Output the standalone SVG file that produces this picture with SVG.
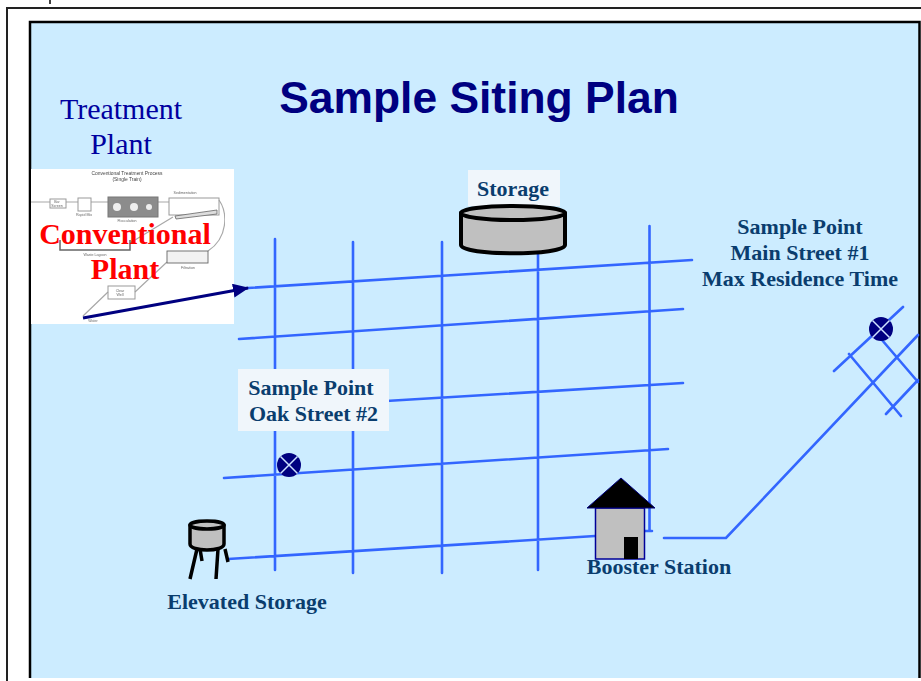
<svg xmlns="http://www.w3.org/2000/svg" width="921" height="681" viewBox="0 0 921 681">
<style>
.road{fill:none;stroke:#3366ff;stroke-width:2.6;stroke-linecap:round;stroke-linejoin:miter}
.lbl{font-family:"Liberation Serif","Times New Roman",serif;font-weight:700;font-size:22px;fill:#0a3d6e;text-anchor:middle}
.box{fill:#f0f6fb}
.tank{fill:#c0c0c0;stroke:#000;stroke-linejoin:round}
.mk{fill:#000080}
.x{stroke:#cfe3ff;stroke-width:1.5}
.pg{fill:none;stroke:#9a9a9a;stroke-width:1}
.pl{fill:none;stroke:#a8a8a8;stroke-width:1.2}
.pt{font-family:"Liberation Sans",Arial,sans-serif;font-size:3.6px;fill:#666;text-anchor:middle}
.red{font-family:"Liberation Serif","Times New Roman",serif;font-weight:700;font-size:30px;fill:#ff0000;text-anchor:middle}
</style>
<defs>
<marker id="ah" markerUnits="userSpaceOnUse" markerWidth="16" markerHeight="14" refX="15" refY="7" orient="auto"><path d="M0 0L16 7L0 14Z" fill="#000080"/></marker>
<filter id="soft" x="0" y="0" width="1" height="1"><feGaussianBlur stdDeviation="0.4"/></filter>
</defs>
<rect width="921" height="681" fill="#fff"/>
<path d="M50 0V4" stroke="#000" stroke-width="1.5"/>
<path d="M7 681V8H921" fill="none" stroke="#222" stroke-width="2"/>
<rect x="30" y="22" width="889" height="656" fill="#ccecff"/>
<path d="M30 678V22H919.500V678" fill="none" stroke="#000" stroke-width="2.500"/>
<text x="479" y="113" font-family="'Liberation Sans',Arial,sans-serif" font-weight="700" font-size="44.400" fill="#000080" text-anchor="middle">Sample Siting Plan</text>
<g id="treatment-plant">
<text x="121" y="119" font-family="'Liberation Serif','Times New Roman',serif" font-size="30" fill="#0000a0" text-anchor="middle">Treatment</text>
<text x="121" y="154" font-family="'Liberation Serif','Times New Roman',serif" font-size="30" fill="#0000a0" text-anchor="middle">Plant</text>
<rect x="31" y="169" width="203" height="155" fill="#fff"/>
<g filter="url(#soft)">
<text class="pt" x="127" y="174.500" style="font-size:4.900px;fill:#444">Conventional Treatment Process</text>
<text class="pt" x="127" y="180.500" style="font-size:4.900px;fill:#444">(Single Train)</text>
<path class="pl" d="M31 202H50M66 202H78M91 202H108M158 202H169M219 200C228 213 228 238 208 251M173 217L130 243M167 262L135 292M108 292L83 316"/>
<rect class="pg" x="50" y="199" width="16" height="9"/>
<rect class="pg" x="78" y="198" width="13" height="13"/>
<rect x="108" y="197" width="50" height="20" fill="#8c8c8c" stroke="#777"/>
<circle cx="117" cy="207" r="4" fill="#eee"/><circle cx="134" cy="207" r="4" fill="#eee"/><circle cx="149" cy="207" r="3" fill="#eee"/>
<rect class="pg" x="169" y="198" width="50" height="17"/>
<path d="M175 216L217 210V214L176 219Z" fill="#ddd" stroke="#666" stroke-width=".8"/>
<path d="M60 240V250H130V240" fill="none" stroke="#666" stroke-width="1.500"/>
<rect x="167" y="251" width="41" height="12" fill="#f2f2f2" stroke="#666" stroke-width=".9"/>
<rect class="pg" x="108" y="286" width="27" height="13"/>
<text class="pt" x="57" y="203">Bar</text><text class="pt" x="57" y="207">Screen</text>
<text class="pt" x="84" y="216">Rapid Mix</text>
<text class="pt" x="127" y="222">Flocculation</text>
<text class="pt" x="185" y="194">Sedimentation</text>
<text class="pt" x="95" y="256">Waste Lagoon</text>
<text class="pt" x="188" y="269">Filtration</text>
<text class="pt" x="120" y="291.500">Clear</text><text class="pt" x="120" y="296">Well</text>
<text class="pt" x="93" y="322">Water</text>
</g>
<text class="red" x="125" y="244">Conventional</text>
<text class="red" x="125" y="279">Plant</text>
</g>
<g id="connectors">
<path class="road" d="M248 288L692 260M239 339L683 309M270 408L683 383M224 478L668 449M228 559L595 536M645 531H652M275 239V570M353 242V573M442 242V573M538 250V570M649.500 226V531"/>
<path class="road" d="M664 538H726L918 335M834 371L903 307M849 354L901 416M882 340L918 382M886 414L918 380"/>
<path d="M83 318L248 288" fill="none" stroke="#000080" stroke-width="3" marker-end="url(#ah)"/>
</g>
<g id="storage">
<rect class="box" x="468" y="170" width="92" height="36"/>
<text class="lbl" x="513" y="196">Storage</text>
<path class="tank" stroke-width="4" d="M461 213V245C461 256 565 256 565 245V213Z"/>
<ellipse class="tank" stroke-width="4" cx="513" cy="213" rx="52" ry="7"/>
</g>
<g id="sample-main">
<text class="lbl" x="800" y="234">Sample Point</text>
<text class="lbl" x="800" y="260">Main Street #1</text>
<text class="lbl" x="800" y="286">Max Residence Time</text>
<circle class="mk" cx="881" cy="329" r="12"/>
<path class="x" d="M872.500 320.500L889.500 337.500M889.500 320.500L872.500 337.500"/>
</g>
<g id="sample-oak">
<rect class="box" x="238" y="369" width="151" height="62"/>
<text class="lbl" x="311" y="395">Sample Point</text>
<text class="lbl" x="313.500" y="421">Oak Street #2</text>
<circle class="mk" cx="289" cy="465" r="12"/>
<path class="x" d="M280.500 456.500L297.500 473.500M297.500 456.500L280.500 473.500"/>
</g>
<g id="elevated-storage">
<path d="M197 549L190 579M218 549L216 579M225 549L228 562M200 549L202 561" fill="none" stroke="#000" stroke-width="3.500"/>
<path class="tank" stroke-width="3.500" d="M190 525V544C190 552 224 552 224 544V525Z"/>
<ellipse class="tank" stroke-width="3.500" cx="207" cy="525" rx="17" ry="4"/>
<text class="lbl" x="247" y="609">Elevated Storage</text>
</g>
<g id="booster-station">
<rect x="595.500" y="508" width="49" height="51" fill="#c0c0c0" stroke="#000099" stroke-width="1.500"/>
<path d="M587 508L621 478L655 508Z" fill="#000" stroke="#000080"/>
<rect x="624" y="537" width="14" height="22" fill="#000"/>
<text class="lbl" x="659" y="574">Booster Station</text>
</g>
</svg>
